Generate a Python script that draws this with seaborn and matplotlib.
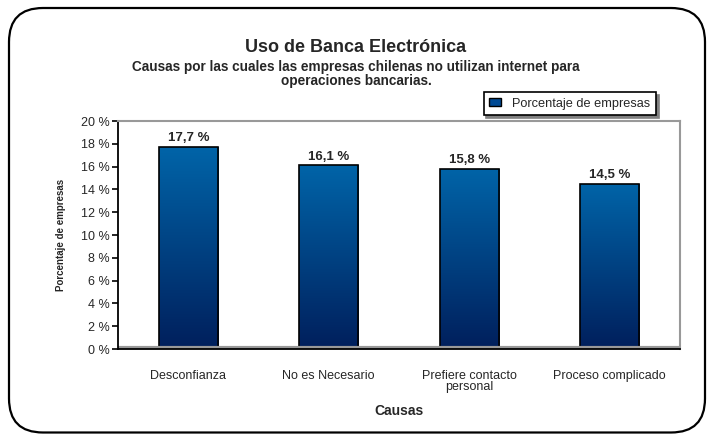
import numpy as np
import pandas as pd
import matplotlib
matplotlib.use("Agg")
import matplotlib.pyplot as plt
import seaborn as sns
from matplotlib.patches import FancyBboxPatch, Patch
from matplotlib.colors import LinearSegmentedColormap
from matplotlib.transforms import IdentityTransform

# datos
causas = ["Desconfianza", "No es Necesario", "Prefiere contacto\npersonal", "Proceso complicado"]
porcentajes = [17.7, 16.1, 15.8, 14.5]
etiquetas = ["17,7 %", "16,1 %", "15,8 %", "14,5 %"]
yticks = [0, 2, 4, 6, 8, 10, 12, 14, 16, 18, 20]

df = pd.DataFrame({"Causa": causas, "Porcentaje": porcentajes})

sns.set_style("white")
plt.rcParams["font.family"] = ["Liberation Sans", "DejaVu Sans"]

fig = plt.figure(figsize=(7.12, 4.34), dpi=100)
ax = fig.add_axes([118 / 712, 1 - 349 / 434, 562 / 712, 228 / 434])

sns.barplot(data=df, x="Causa", y="Porcentaje", ax=ax, width=0.42,
            color="#003f87", edgecolor="black", linewidth=1.2)

# degradado en las barras (oscuro abajo, claro arriba)
cmap = LinearSegmentedColormap.from_list("azul", ["#001f5c", "#0064a8"])
grad = np.linspace(0, 1, 256).reshape(-1, 1)
for p in ax.patches:
    x0, w, h = p.get_x(), p.get_width(), p.get_height()
    p.set_facecolor("none")
    im = ax.imshow(grad, cmap=cmap, origin="lower", aspect="auto",
                   extent=(x0, x0 + w, 0, h), zorder=p.get_zorder() - 0.1)
    im.set_clip_path(p)

for i, (v, t) in enumerate(zip(porcentajes, etiquetas)):
    ax.text(i, v + 0.25, t, ha="center", va="bottom", fontsize=9.5, fontweight="bold")

ax.set_xlim(-0.5, 3.5)
ax.set_ylim(0, 20)
ax.set_yticks(yticks)
ax.set_yticklabels([f"{v} %" for v in yticks], fontsize=9)
ax.set_xticks(range(len(causas)))
ax.set_xticklabels(causas, fontsize=9, linespacing=0.95)
ax.set_xticks([-0.5, 0.5, 1.5, 2.5, 3.5], minor=True)
ax.tick_params(axis="x", which="major", length=0, pad=15)
ax.tick_params(axis="x", which="minor", length=5, width=1.2, direction="out", color="black")
ax.tick_params(axis="y", length=4, width=1.2, direction="out", color="black", left=True, pad=2)

ax.set_xlabel("Causas", fontsize=10, fontweight="bold", labelpad=8)
ax.set_ylabel("Porcentaje de empresas", fontsize=7, fontweight="bold", labelpad=11)

for s in ["top", "right"]:
    ax.spines[s].set_color("#999999")
    ax.spines[s].set_linewidth(1.5)
for s in ["left", "bottom"]:
    ax.spines[s].set_color("black")
    ax.spines[s].set_linewidth(1.3)
ax.axhline(0.12, color="#999999", lw=3, zorder=1)

fig.text(0.5, 1 - 48 / 434, "Uso de Banca Electrónica", ha="center", va="center",
         fontsize=13, fontweight="bold")
fig.text(0.5, 1 - 74 / 434, "Causas por las cuales las empresas chilenas no utilizan internet para\noperaciones bancarias.",
         ha="center", va="center", fontsize=9.8, fontweight="bold", linespacing=1.0)

leg = fig.legend(handles=[Patch(facecolor="#004a94", edgecolor="black", label="Porcentaje de empresas")],
                 loc="center", bbox_to_anchor=(570 / 712, 1 - 103.5 / 434), fontsize=9.2,
                 frameon=True, fancybox=False, shadow={"color": "#808080", "alpha": 1},
                 handlelength=0.9, handleheight=0.6, borderpad=0.45, handletextpad=0.9,
                 borderaxespad=0)
leg.get_frame().set_edgecolor("black")
leg.get_frame().set_linewidth(1.2)

# marco redondeado en pixeles
borde = FancyBboxPatch((9, 1.5), 696, 424.5, boxstyle="round,pad=0,rounding_size=34",
                       transform=IdentityTransform(), fill=False, edgecolor="black", lw=1.6)
fig.patches.append(borde)

plt.savefig("out.png", dpi=100)
